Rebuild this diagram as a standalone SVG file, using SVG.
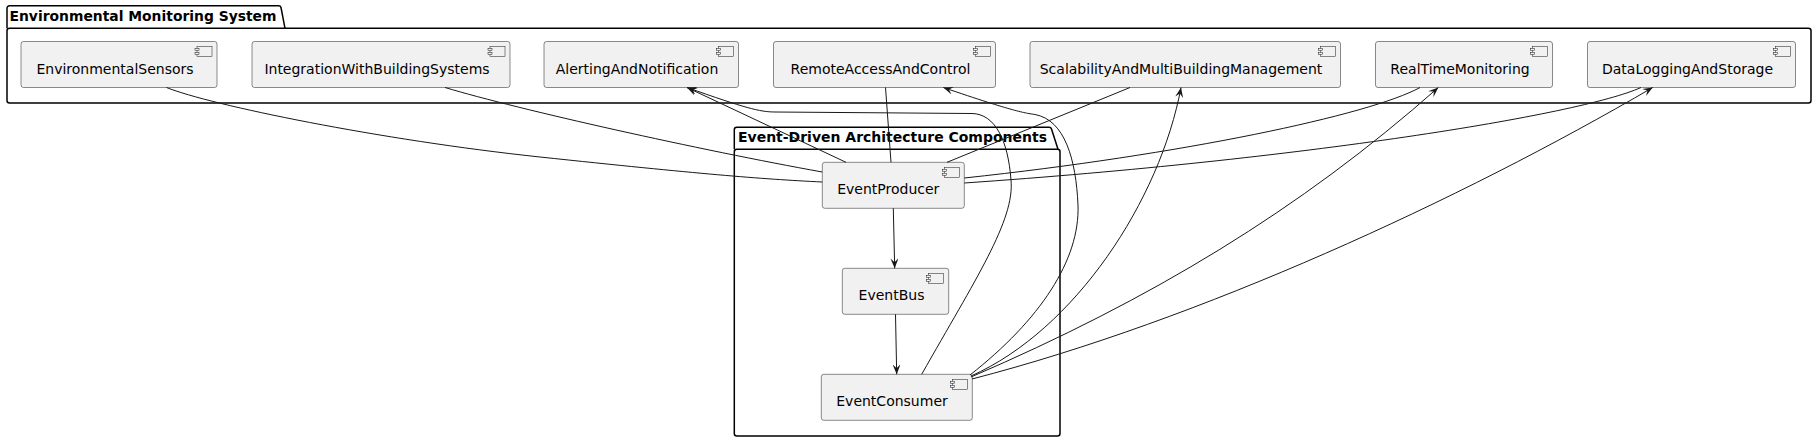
<svg xmlns="http://www.w3.org/2000/svg" width="1817" height="443" viewBox="0 0 1817 443">
<style>
.pkg{fill:none;stroke:#000;stroke-width:1.5}
.ptitle{font-family:"DejaVu Sans",sans-serif;font-size:14px;font-weight:bold;fill:#000}
.box{fill:#F1F1F1;stroke:#181818;stroke-width:0.5}
.icon{fill:#F1F1F1;stroke:#181818;stroke-width:0.5}
.lbl{font-family:"DejaVu Sans",sans-serif;font-size:14px;fill:#000;text-anchor:middle}
.edge{fill:none;stroke:#181818;stroke-width:1}
</style>
<defs>
<marker id="arr" viewBox="0 0 10 8" refX="10" refY="4" markerWidth="10" markerHeight="8" markerUnits="userSpaceOnUse" orient="auto">
<path d="M0,0 L10,4 L0,8 L4,4 Z" fill="#181818"/>
</marker>
<g id="cicon">
<rect class="icon" x="-20" y="5" width="15" height="10"/>
<rect class="icon" x="-22" y="7" width="4" height="2"/>
<rect class="icon" x="-22" y="11" width="4" height="2"/>
</g>
</defs>
<rect width="1817" height="443" fill="#fff"/>

<g id="pkg-ems">
<path class="pkg" d="M7,28.3 L7,8.2 A2.5,2.5 0 0 1 9.5,5.7 L278.5,5.7 A2.5,2.5 0 0 1 281,7.5 L285,28.3"/>
<rect class="pkg" x="7" y="28.3" width="1804" height="74.7" rx="2.5"/>
<text class="ptitle" x="9.5" y="21" textLength="267" lengthAdjust="spacingAndGlyphs">Environmental Monitoring System</text>
</g>

<g id="pkg-eda">
<path class="pkg" d="M734.3,149.3 L734.3,129.8 A2.5,2.5 0 0 1 736.8,127.3 L1049,127.3 A2.5,2.5 0 0 1 1051.5,129.1 L1058,149.3"/>
<rect class="pkg" x="734.3" y="149.3" width="325.7" height="286.7" rx="2.5"/>
<text class="ptitle" x="738" y="142" textLength="309" lengthAdjust="spacingAndGlyphs">Event-Driven Architecture Components</text>
</g>

<g id="EnvironmentalSensors">
<rect class="box" x="21" y="41.5" width="196" height="46" rx="2.5"/>
<use href="#cicon" x="217" y="41.5"/>
<text class="lbl" x="115" y="74">EnvironmentalSensors</text>
</g>
<g id="IntegrationWithBuildingSystems">
<rect class="box" x="252" y="41.5" width="258" height="46" rx="2.5"/>
<use href="#cicon" x="510" y="41.5"/>
<text class="lbl" x="377" y="74">IntegrationWithBuildingSystems</text>
</g>
<g id="AlertingAndNotification">
<rect class="box" x="544" y="41.5" width="194.5" height="46" rx="2.5"/>
<use href="#cicon" x="738.5" y="41.5"/>
<text class="lbl" x="637" y="74">AlertingAndNotification</text>
</g>
<g id="RemoteAccessAndControl">
<rect class="box" x="773.5" y="41.5" width="222" height="46" rx="2.5"/>
<use href="#cicon" x="995.5" y="41.5"/>
<text class="lbl" x="880.5" y="74">RemoteAccessAndControl</text>
</g>
<g id="ScalabilityAndMultiBuildingManagement">
<rect class="box" x="1030" y="41.5" width="310.5" height="46" rx="2.5"/>
<use href="#cicon" x="1340.5" y="41.5"/>
<text class="lbl" x="1181" y="74">ScalabilityAndMultiBuildingManagement</text>
</g>
<g id="RealTimeMonitoring">
<rect class="box" x="1375.5" y="41.5" width="177" height="46" rx="2.5"/>
<use href="#cicon" x="1552.5" y="41.5"/>
<text class="lbl" x="1460" y="74">RealTimeMonitoring</text>
</g>
<g id="DataLoggingAndStorage">
<rect class="box" x="1587.5" y="41.5" width="208" height="46" rx="2.5"/>
<use href="#cicon" x="1795.5" y="41.5"/>
<text class="lbl" x="1687.5" y="74">DataLoggingAndStorage</text>
</g>

<g id="EventProducer">
<rect class="box" x="822.3" y="162.3" width="142" height="46" rx="2.5"/>
<use href="#cicon" x="964.3" y="162.3"/>
<text class="lbl" x="888.3" y="194.3">EventProducer</text>
</g>
<g id="EventBus">
<rect class="box" x="842.3" y="268.3" width="106.4" height="46" rx="2.5"/>
<use href="#cicon" x="948.7" y="268.3"/>
<text class="lbl" x="891.5" y="300.3">EventBus</text>
</g>
<g id="EventConsumer">
<rect class="box" x="821.3" y="374.3" width="151" height="46" rx="2.5"/>
<use href="#cicon" x="972.3" y="374.3"/>
<text class="lbl" x="892" y="406.3">EventConsumer</text>
</g>

<g id="connectors">
<path class="edge" d="M166.5,87.5 C210,105 380,140 540,157 S760,179 822.3,182"/>
<path class="edge" d="M445,87.5 C520,110 700,150 822.3,172"/>
<path class="edge" d="M846,162.3 L687,87.5" marker-end="url(#arr)"/>
<path class="edge" d="M885.5,87.5 L891,162.3"/>
<path class="edge" d="M1130,87.5 L947,162.3"/>
<path class="edge" d="M1420,87.5 C1370,115 1180,155 964.3,178"/>
<path class="edge" d="M1641,87.5 C1580,115 1300,160 964.3,183"/>
<path class="edge" d="M893.3,208.3 L894.7,268.3" marker-end="url(#arr)"/>
<path class="edge" d="M895.5,314.3 L896.7,374.3" marker-end="url(#arr)"/>
<path class="edge" d="M921.7,374.3 C975,280 1015,220 1011,180 C1008,140 995,114 972,113.5 L775,112 C760,112 745,108 687,87.5" marker-end="url(#arr)"/>
<path class="edge" d="M970,375 C1040,320 1080,260 1078,205 C1076,160 1065,120 1035,114.5 C1025,113 1015,112 943.3,87.5" marker-end="url(#arr)"/>
<path class="edge" d="M971,376 C1075,330 1160,200 1181,87.5" marker-end="url(#arr)"/>
<path class="edge" d="M971,377 C1150,300 1300,210 1438.3,87.5" marker-end="url(#arr)"/>
<path class="edge" d="M972,379 C1200,320 1460,200 1652.7,87.5" marker-end="url(#arr)"/>
</g>
</svg>
